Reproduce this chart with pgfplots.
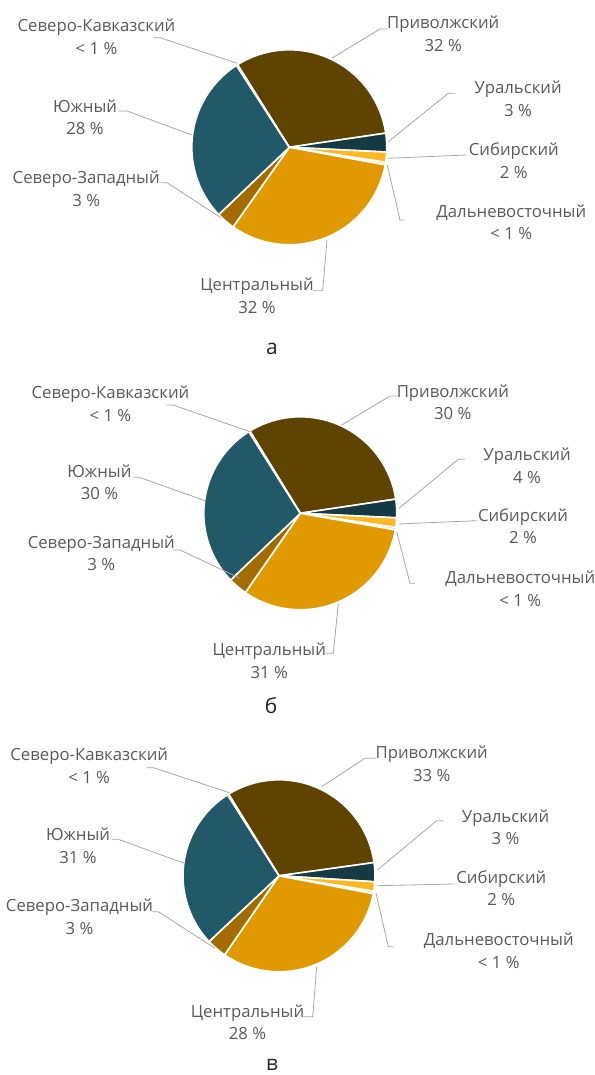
\documentclass[border=0pt]{standalone}
\usepackage{fontspec}
\setmainfont{Open Sans}
\usepackage{pgfplots}
\usepackage{pgfplotstable}
\pgfplotsset{compat=1.18}

\definecolor{cPriv}{HTML}{5E4400}
\definecolor{cUral}{HTML}{153A44}
\definecolor{cSib}{HTML}{FDB822}
\definecolor{cDal}{HTML}{F2C55C}
\definecolor{cCentr}{HTML}{E09A00}
\definecolor{cSZ}{HTML}{A36C00}
\definecolor{cYug}{HTML}{215969}
\definecolor{cSK}{HTML}{2E7F8F}
\definecolor{txt}{HTML}{595959}
\definecolor{leadc}{HTML}{A6A6A6}

% slice shares as drawn (percent), clockwise from the start angle
\pgfplotstableread{
region share col
Priv  31.6 cPriv
Ural   3.1 cUral
Sib    1.7 cSib
Dal    0.4 cDal
Centr 31.9 cCentr
SZ     3.1 cSZ
Yug   28.0 cYug
SK     0.2 cSK
}\pieA
\pgfplotstableread{
region share col
Priv  31.4 cPriv
Ural   3.1 cUral
Sib    1.6 cSib
Dal    0.4 cDal
Centr 31.9 cCentr
SZ     3.2 cSZ
Yug   28.2 cYug
SK     0.2 cSK
}\pieB
\pgfplotstableread{
region share col
Priv  31.6 cPriv
Ural   3.2 cUral
Sib    1.6 cSib
Dal    0.4 cDal
Centr 31.6 cCentr
SZ     3.4 cSZ
Yug   28.0 cYug
SK     0.2 cSK
}\pieC

\newcommand\drawpie[3]{% #1 table, #2 start angle, #3 radius
  \pgfplotstablegetrowsof{#1}%
  \pgfmathtruncatemacro\lastrow{\pgfplotsretval-1}%
  \xdef\curang{#2}%
  \pgfplotsforeachungrouped \i in {0,...,\lastrow}{%
    \pgfplotstablegetelem{\i}{share}\of{#1}\let\sh\pgfplotsretval
    \pgfplotstablegetelem{\i}{col}\of{#1}\let\cl\pgfplotsretval
    \pgfmathsetmacro\endang{\curang-3.6*\sh}%
    \edef\temp{\noexpand\fill[\cl, draw=white, line width=1.6bp, line join=round]
      (axis cs:0,0) -- (axis cs:{#3*cos(\curang)},{#3*sin(\curang)})
      arc[start angle=\curang, end angle=\endang, radius=#3bp] -- cycle;}%
    \temp
    \xdef\curang{\endang}%
  }%
}
% label: x, y of first baseline, line1, line2
\newcommand\lbl[4]{%
  \node[lbltext] at (axis cs:#1,#2) {#3};
  \node[lbltext] at (axis cs:#1,{#2-22.5}) {#4};
}

\tikzset{
  lbltext/.style={anchor=base, inner sep=0pt, text=txt, font=\fontsize{16.8}{20}\selectfont},
  captext/.style={anchor=base, inner sep=0pt, text=black!85, font=\fontsize{21}{25}\selectfont},
  ldr/.style={draw=leadc, line width=0.8bp},
}
\pgfplotsset{pieaxis/.style={x=1bp, y=1bp, xmin=-300, xmax=300, ymin=-220, ymax=220,
  hide axis, clip=false, anchor=origin}}

\begin{document}
\begin{tikzpicture}
\path[use as bounding box] (0,0) rectangle (595bp,1075bp);

% ---------- а ----------
\begin{axis}[pieaxis, at={(289.3bp,927.7bp)}]
\drawpie{\pieA}{122.1}{97.5}
\draw[ldr] (axis cs:-136,109.6) -- (axis cs:-129.3,109.6) -- (axis cs:-52,84);
\draw[ldr] (axis cs:-171.3,36.3) -- (axis cs:-162.3,36.3) -- (axis cs:-97.6,12.3);
\draw[ldr] (axis cs:-129.3,-35.4) -- (axis cs:-122.3,-35.4) -- (axis cs:-67.6,-71);
\draw[ldr] (axis cs:98,118.3) -- (axis cs:90.7,118.3) -- (axis cs:42.4,89);
\draw[ldr] (axis cs:165.7,54) -- (axis cs:159,54) -- (axis cs:99,5.6);
\draw[ldr] (axis cs:177.4,-7.7) -- (axis cs:99,-11);
\draw[ldr] (axis cs:115.7,-72.7) -- (axis cs:110.7,-72.7) -- (axis cs:98,-17.7);
\draw[ldr] (axis cs:23.7,-143.4) -- (axis cs:33.4,-143.4) -- (axis cs:37.7,-92.7);
\lbl{-192.8}{115.6}{Северо-Кавказский}{< 1 \%}
\lbl{-204.3}{34.9}{Южный}{28 \%}
\lbl{-203.1}{-36.7}{Северо-Западный}{3 \%}
\lbl{153.9}{118.3}{Приволжский}{32 \%}
\lbl{228.7}{53.3}{Уральский}{3 \%}
\lbl{224.5}{-8.4}{Сибирский}{2 \%}
\lbl{222}{-70.1}{Дальневосточный}{< 1 \%}
\lbl{-32.3}{-143.4}{Центральный}{32 \%}
\end{axis}

% ---------- б ----------
\begin{axis}[pieaxis, at={(300.3bp,561.7bp)}]
\drawpie{\pieB}{121.5}{96.5}
\draw[ldr] (axis cs:-133.6,108.3) -- (axis cs:-127.3,108.3) -- (axis cs:-50.3,81.6);
\draw[ldr] (axis cs:-167,36) -- (axis cs:-161,36) -- (axis cs:-95.3,12.6);
\draw[ldr] (axis cs:-127,-36.7) -- (axis cs:-120.3,-36.7) -- (axis cs:-60.3,-65);
\draw[ldr] (axis cs:97,117.3) -- (axis cs:89.7,117.3) -- (axis cs:41.4,88.3);
\draw[ldr] (axis cs:164.7,54) -- (axis cs:158,54) -- (axis cs:98.7,5);
\draw[ldr] (axis cs:176.4,-7.4) -- (axis cs:98.7,-10.7);
\draw[ldr] (axis cs:114.7,-70) -- (axis cs:109.7,-70) -- (axis cs:96.4,-18.4);
\draw[ldr] (axis cs:24.7,-140) -- (axis cs:33,-140) -- (axis cs:38,-90);
\lbl{-189.9}{114.3}{Северо-Кавказский}{< 1 \%}
\lbl{-200.9}{35.9}{Южный}{30 \%}
\lbl{-199}{-35.1}{Северо-Западный}{3 \%}
\lbl{152.5}{115.9}{Приволжский}{30 \%}
\lbl{226.7}{52.6}{Уральский}{4 \%}
\lbl{222.7}{-8.1}{Сибирский}{2 \%}
\lbl{220}{-70.7}{Дальневосточный}{< 1 \%}
\lbl{-31.1}{-142.4}{Центральный}{31 \%}
\end{axis}

% ---------- в ----------
\begin{axis}[pieaxis, at={(279bp,199.2bp)}]
\drawpie{\pieC}{121.7}{96}
\draw[ldr] (axis cs:-132.3,108.1) -- (axis cs:-125.7,108.1) -- (axis cs:-49.7,83.1);
\draw[ldr] (axis cs:-167.3,36.5) -- (axis cs:-160.7,36.5) -- (axis cs:-94.7,12.5);
\draw[ldr] (axis cs:-127.3,-35.9) -- (axis cs:-120.7,-35.9) -- (axis cs:-64,-72.5);
\draw[ldr] (axis cs:97,117.5) -- (axis cs:86,117.5) -- (axis cs:42.7,89.1);
\draw[ldr] (axis cs:165,55.1) -- (axis cs:157.7,55.1) -- (axis cs:98.3,5.8);
\draw[ldr] (axis cs:176,-8.2) -- (axis cs:98.3,-9.9);
\draw[ldr] (axis cs:114.3,-70.9) -- (axis cs:109.3,-70.9) -- (axis cs:97,-17.5);
\draw[ldr] (axis cs:24.3,-140.9) -- (axis cs:33.7,-140.9) -- (axis cs:37.7,-90.9);
\lbl{-189.8}{115.1}{Северо-Кавказский}{< 1 \%}
\lbl{-201}{35.1}{Южный}{31 \%}
\lbl{-199.5}{-35.9}{Северо-Западный}{3 \%}
\lbl{152.7}{116.8}{Приволжский}{33 \%}
\lbl{226.5}{53.4}{Уральский}{3 \%}
\lbl{222.3}{-7.6}{Сибирский}{2 \%}
\lbl{219.8}{-69.9}{Дальневосточный}{< 1 \%}
\lbl{-31.5}{-141.6}{Центральный}{28 \%}
\end{axis}

\node[captext] at (272bp,720bp) {а};
\node[captext] at (271bp,361bp) {б};
\node[captext] at (272bp,5bp) {в};
\end{tikzpicture}
\end{document}
